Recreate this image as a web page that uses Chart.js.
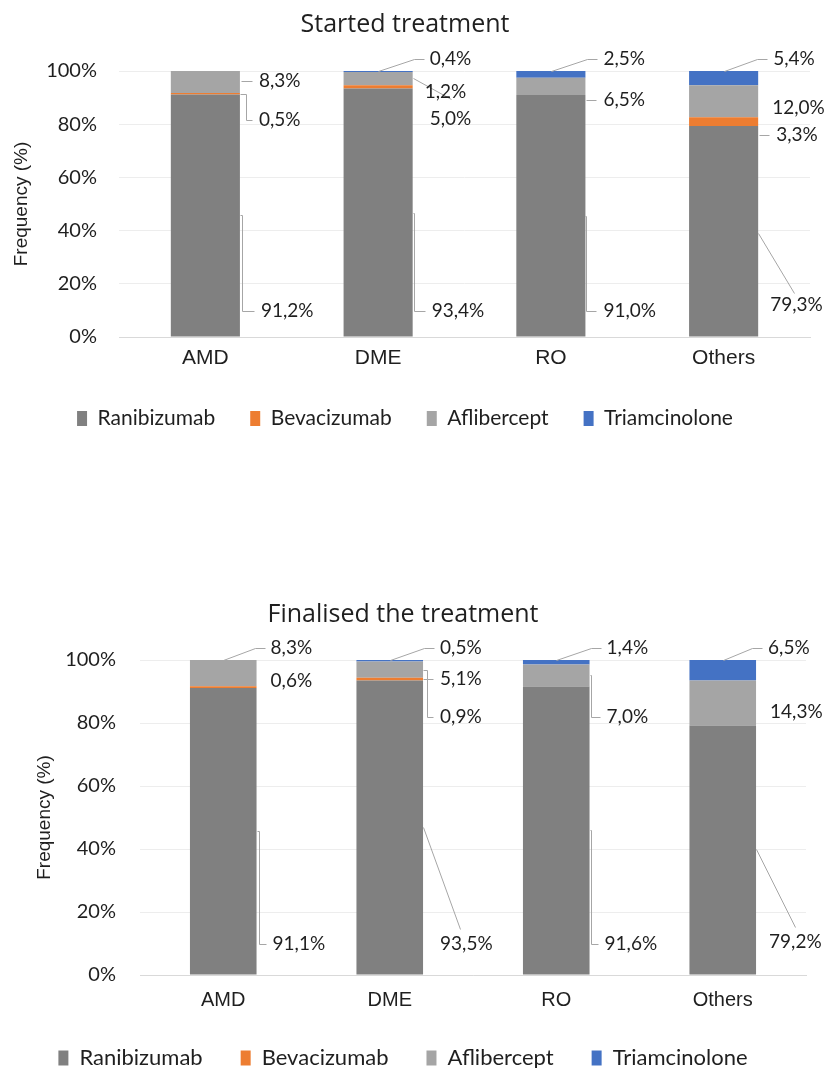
<!DOCTYPE html>
<html>
<head>
<meta charset="utf-8">
<script src="https://cdn.jsdelivr.net/npm/chart.js@4.4.1/dist/chart.umd.min.js"></script>
<style>
  html, body { margin: 0; padding: 0; background: #fff; width: 824px; height: 1068px; overflow: hidden; }
  .panel { position: absolute; left: 0; }
</style>
</head>
<body>
<div class="panel" style="top:0"><canvas id="started" width="824" height="439"></canvas></div>
<div class="panel" style="top:580px"><canvas id="finalised" width="824" height="499"></canvas></div>
<script>
// Indications and drugs
const categories = ['AMD', 'DME', 'RO', 'Others'];
const seriesNames = ['Ranibizumab', 'Bevacizumab', 'Aflibercept', 'Triamcinolone'];

// Started treatment (%)
const startedRanibizumab   = [91.2, 93.4, 91.0, 79.3];
const startedBevacizumab   = [0.5, 1.2, 0, 3.3];
const startedAflibercept   = [8.3, 5.0, 6.5, 12.0];
const startedTriamcinolone = [0, 0.4, 2.5, 5.4];

// Finalised the treatment (%)
const finalRanibizumab   = [91.1, 93.5, 91.6, 79.2];
const finalBevacizumab   = [0.6, 0.9, 0, 0];
const finalAflibercept   = [8.3, 5.1, 7.0, 14.3];
const finalTriamcinolone = [0, 0.5, 1.4, 6.5];

// Y axis ticks (%)
const yTicks = [0, 20, 40, 60, 80, 100];

const seriesColors = ['#808080', '#ED7D31', '#A5A5A5', '#4472C4'];

// Placement of the value labels: level on the y axis (%), offset from the bar's right edge (px)
// and the leader line style.
const startedLabelPlacement = [
  [ { at: 9.8, dx: 21, lead: { type: 'elbow', from: 'mid', kx: 2 } },
    { at: 9.8, dx: 19, lead: { type: 'elbow', from: 'mid', kx: 1 } },
    { at: 9.8, dx: 18, lead: { type: 'elbow', from: 'mid', kx: 1 } },
    { at: 12,  dx: 12, lead: { type: 'line', from: 39, tx: 24, ty: -12 } } ],
  [ { at: 81.5, dx: 19, lead: { type: 'elbow', from: 'mid', kx: 6 } },
    { at: 92.1, dx: 12, lead: { type: 'line', from: 97.5, tx: 26, ty: 7 } },
    null,
    { at: 76, dx: 18, lead: { type: 'h' } } ],
  [ { at: 96.2, dx: 19, lead: { type: 'h' } },
    { at: 82, dx: 17, lead: null },
    { at: 89.1, dx: 18, lead: { type: 'h' } },
    { at: 86, dx: 14, lead: null } ],
  [ null,
    { at: 104.5, dx: 17, lead: { type: 'top' } },
    { at: 104.5, dx: 18, lead: { type: 'top' } },
    { at: 104.5, dx: 15, lead: { type: 'top' } } ]
];

const finalLabelPlacement = [
  [ { at: 10, dx: 16, lead: { type: 'elbow', from: 'mid', kx: 2 } },
    { at: 10, dx: 17, lead: { type: 'line', from: 47, tx: 20, ty: -15 } },
    { at: 10, dx: 15, lead: { type: 'elbow', from: 'mid', kx: 1 } },
    { at: 10.5, dx: 13, lead: { type: 'line', from: 40, tx: 26, ty: -15 } } ],
  [ { at: 93.5, dx: 14, lead: null },
    { at: 82, dx: 17, lead: { type: 'elbow', from: 'mid', kx: 4 } },
    null,
    null ],
  [ { at: 103.8, dx: 14, lead: { type: 'top' } },
    { at: 94, dx: 17, lead: { type: 'elbow', from: 'mid', kx: 4 } },
    { at: 82, dx: 17, lead: { type: 'elbow', from: 'mid', kx: 1 } },
    { at: 83.5, dx: 14, lead: null } ],
  [ null,
    { at: 103.8, dx: 17, lead: { type: 'top' } },
    { at: 103.8, dx: 17, lead: { type: 'top' } },
    { at: 103.8, dx: 12, lead: { type: 'top' } } ]
];

// Value labels with leader lines, drawn next to each stacked segment
const leaderLabels = {
  id: 'leaderLabels',
  afterDatasetsDraw(chart, args, opts) {
    const { ctx } = chart;
    const yScale = chart.scales.y;
    ctx.save();
    ctx.font = opts.font;
    ctx.fillStyle = opts.color;
    ctx.textBaseline = 'middle';
    ctx.textAlign = 'left';
    ctx.strokeStyle = opts.lineColor;
    ctx.lineWidth = 1;
    chart.data.datasets.forEach((ds, di) => {
      const meta = chart.getDatasetMeta(di);
      const specs = opts.placement[di];
      ds.data.forEach((v, i) => {
        const s = specs && specs[i];
        if (!s || !v) return;
        const bar = meta.data[i];
        const { x, y, base, width } = bar.getProps(['x', 'y', 'base', 'width'], true);
        const right = x + width / 2;
        const ly = yScale.getPixelForValue(s.at);
        const lx = right + s.dx;
        const fromY = (lv) => lv === 'mid' ? (y + base) / 2 : yScale.getPixelForValue(lv);
        const L = s.lead;
        const pts = [];
        if (L) {
          if (L.type === 'h') {
            pts.push([right + 1, ly], [lx - 7, ly]);
          } else if (L.type === 'elbow') {
            const fy = fromY(L.from);
            const kx = right + L.kx;
            pts.push([right, fy], [kx, fy], [kx, ly], [lx - 7, ly]);
          } else if (L.type === 'top') {
            let stackTop = Infinity;
            chart.data.datasets.forEach((d, k) => {
              stackTop = Math.min(stackTop, chart.getDatasetMeta(k).data[i].y);
            });
            pts.push([x, stackTop], [lx - 16, ly], [lx - 6, ly]);
          } else if (L.type === 'line') {
            pts.push([right, fromY(L.from)], [lx + L.tx, ly + L.ty]);
          }
          ctx.beginPath();
          pts.forEach((p, k) => {
            const px = Math.round(p[0]) + 0.5, py = Math.round(p[1]) + 0.5;
            if (k === 0) ctx.moveTo(px, py); else ctx.lineTo(px, py);
          });
          ctx.stroke();
        }
        ctx.fillText(v.toFixed(1).replace('.', ',') + '%', lx, ly);
      });
    });
    ctx.restore();
  }
};

function buildChart(canvasId, title, series, placement, L) {
  return new Chart(document.getElementById(canvasId), {
    type: 'bar',
    data: {
      labels: categories,
      datasets: seriesNames.map((name, k) => ({
        label: name,
        data: series[k],
        backgroundColor: seriesColors[k],
        borderWidth: 0,
        barPercentage: 0.4,
        categoryPercentage: 1
      }))
    },
    options: {
      responsive: false,
      animation: false,
      devicePixelRatio: 1,
      layout: { padding: { left: 0, right: L.padRight, top: 0, bottom: 0 } },
      plugins: {
        title: {
          display: true,
          text: title,
          color: '#1f1f1f',
          font: { family: 'Open Sans', size: 25, weight: 'normal' },
          padding: { top: L.titleTop, bottom: L.titleBottom }
        },
        legend: {
          position: 'bottom',
          labels: {
            boxWidth: 10,
            boxHeight: 15,
            padding: L.legendGap,
            color: '#1f1f1f',
            font: { family: 'Lato', size: L.legendSize }
          }
        },
        tooltip: { enabled: false },
        leaderLabels: { placement, font: '19px Lato', color: '#1f1f1f', lineColor: '#A6A6A6' }
      },
      scales: {
        x: {
          stacked: true,
          grid: { display: false, drawTicks: false },
          border: { display: true, color: '#D9D9D9', width: 1 },
          ticks: { padding: L.xPad, color: '#1f1f1f', font: { family: 'Liberation Sans', size: L.xSize, lineHeight: 1 } },
          afterFit: (s) => { s.height = L.xHeight; }
        },
        y: {
          stacked: true,
          min: 0,
          max: 100,
          afterBuildTicks: (s) => { s.ticks = yTicks.map(v => ({ value: v })); },
          ticks: { callback: (v) => v + '%', padding: L.yPad, color: '#1f1f1f', font: { family: 'Lato', size: 20 } },
          grid: { color: '#EDEDED', drawTicks: false },
          border: { display: false },
          title: {
            display: true,
            text: 'Frequency (%)',
            color: '#1f1f1f',
            font: { family: 'Liberation Sans', size: 19 },
            padding: { top: L.yTitlePad, bottom: 0 }
          },
          afterFit: (s) => { s.width = L.yWidth; }
        }
      }
    },
    plugins: [leaderLabels]
  });
}

buildChart('started', 'Started treatment',
  [startedRanibizumab, startedBevacizumab, startedAflibercept, startedTriamcinolone],
  startedLabelPlacement,
  { padRight: 14, titleTop: 10, titleBottom: 31, legendGap: 35, legendSize: 21,
    xPad: 11, xSize: 21, xHeight: 36, yPad: 22, yTitlePad: 10, yWidth: 119 });

buildChart('finalised', 'Finalised the treatment',
  [finalRanibizumab, finalBevacizumab, finalAflibercept, finalTriamcinolone],
  finalLabelPlacement,
  { padRight: 18, titleTop: 20, titleBottom: 30, legendGap: 38, legendSize: 22,
    xPad: 15, xSize: 20, xHeight: 34, yPad: 24, yTitlePad: 33, yWidth: 140 });
</script>
</body>
</html>
